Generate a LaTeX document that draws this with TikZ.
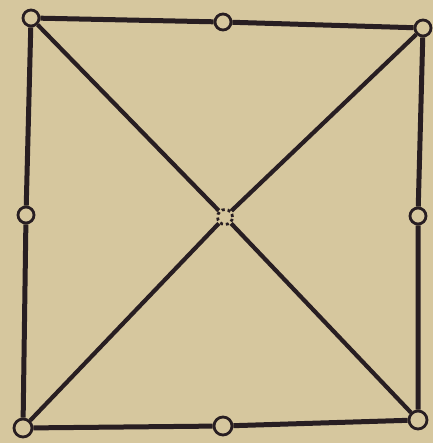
\documentclass[tikz,border=0pt]{standalone}
\definecolor{paper}{RGB}{214,199,158}
\definecolor{ink}{RGB}{40,30,34}
\tikzset{
  spot/.style={circle,draw=ink,line width=2.8pt,minimum size=16pt,inner sep=0pt},
  bar/.style={draw=ink,line width=5pt}
}
\begin{document}
\begin{tikzpicture}[x=1pt,y=-1pt]
  % paper
  \fill[paper] (0,0) rectangle (433,443);
  \useasboundingbox (0,0) rectangle (433,443);
  % corner points
  \node[spot] (tl) at (31,18) {};
  \node[spot] (tr) at (423,28) {};
  \node[spot,minimum size=18pt] (bl) at (23,428) {};
  \node[spot,minimum size=18pt] (br) at (418,420) {};
  % middle points
  \node[spot] (tm) at (223,22) {};
  \node[spot] (lm) at (26,215) {};
  \node[spot] (rm) at (418,216) {};
  \node[spot,minimum size=18pt] (bm) at (223,426) {};
  \node[spot,minimum size=15pt,dashed] (c) at (225,217) {};
  % square
  \draw[bar] (tl) -- (tm) -- (tr) -- (rm) -- (br) -- (bm) -- (bl) -- (lm) -- (tl);
  % diagonals
  \draw[bar,line width=4.2pt] (tl) -- (c) -- (br);
  \draw[bar,line width=4.2pt] (tr) -- (c) -- (bl);
\end{tikzpicture}
\end{document}
